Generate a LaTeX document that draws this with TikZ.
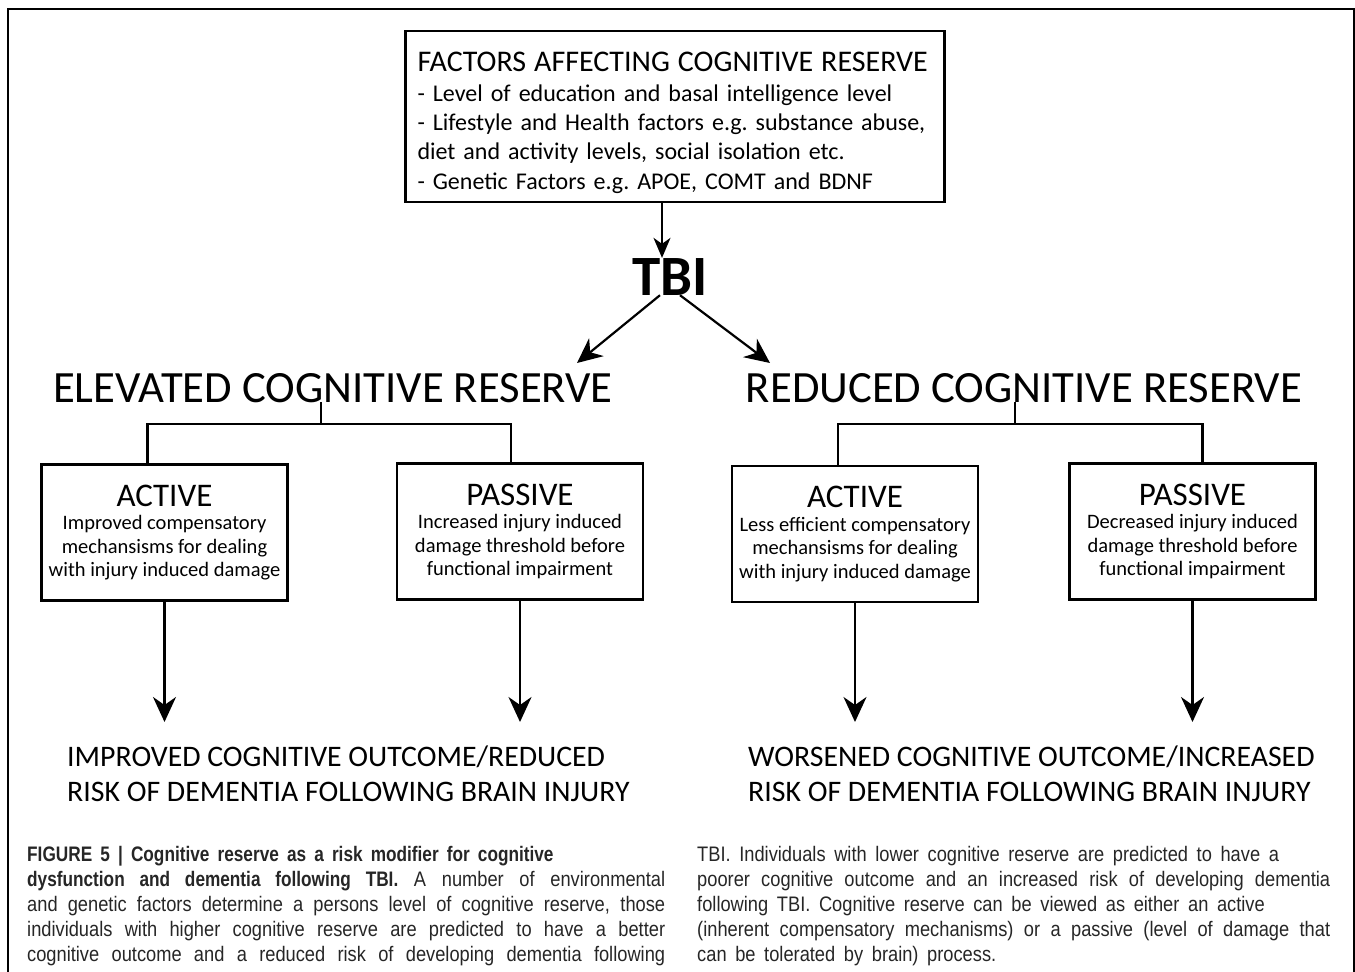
\documentclass[tikz,border=0pt]{standalone}
\usepackage{fontspec}
\setmainfont{Carlito}
\newfontfamily\capfont[FakeStretch=0.87,WordSpace={1.7,1.5,1.6},BoldFeatures={FakeStretch=0.82}]{Liberation Sans}
\usetikzlibrary{arrows.meta,positioning}

\tikzset{
  frame/.style={line width=1.4pt},
  factbox/.style={draw,line width=2.4pt,inner sep=0pt,minimum width=539pt,minimum height=171pt,
    text width=515pt,align=left,font=\fontsize{24}{29.3}\selectfont\frenchspacing},
  crbox/.style={draw,line width=2.4pt,inner sep=0pt,minimum width=246pt,minimum height=136pt,
    align=center,font=\fontsize{20.5}{23.5}\selectfont},
  head/.style={inner sep=0pt,anchor=base,font=\fontsize{44.7}{44.7}\selectfont},
  outcome/.style={inner sep=0pt,align=left,anchor=north west,font=\fontsize{29.8}{35}\selectfont},
  capt/.style={inner sep=0pt,anchor=north west,align=justify,text=black!85,
    font=\capfont\fontsize{21}{25}\selectfont},
  link/.style={line width=2.2pt},
  arr/.style={link,-{Stealth[length=25pt,width=23pt,inset=8pt]}},
  smallarr/.style={link,-{Stealth[length=20pt,width=17pt,inset=6pt]}},
}

\begin{document}
\begin{tikzpicture}[x=1pt,y=-1pt]
\useasboundingbox (0,0) rectangle (1355,972);
\draw[frame] (8,972) |- (1354,9) -- (1354,972);

\node[factbox] (factors) at (675,116.5) {\rule{0pt}{32pt}{\fontsize{30}{33}\selectfont FACTORS AFFECTING COGNITIVE RESERVE}\\
- Level of education and basal intelligence level\\
- Lifestyle and Health factors e.g. substance abuse,\\
diet and activity levels, social isolation etc.\\
- Genetic Factors e.g. APOE, COMT and BDNF};

\node[inner sep=0pt,anchor=base,font=\fontsize{57}{57}\selectfont\bfseries] (tbi) at (670,295) {TBI};

\node[head] (elev) at (333,402) {ELEVATED COGNITIVE RESERVE};
\node[head] (red) at (1024,402) {REDUCED COGNITIVE RESERVE};

\node[crbox] (lact) at (164.5,532.5) {{\fontsize{33}{30}\selectfont ACTIVE}\\Improved compensatory\\mechansisms for dealing\\with injury induced damage};
\node[crbox] (lpas) at (520,531.5) {{\fontsize{33}{30}\selectfont PASSIVE}\\Increased injury induced\\damage threshold before\\functional impairment};
\node[crbox] (ract) at (855,534) {{\fontsize{33}{30}\selectfont ACTIVE}\\Less efficient compensatory\\mechansisms for dealing\\with injury induced damage};
\node[crbox] (rpas) at (1192.5,531.5) {{\fontsize{33}{30}\selectfont PASSIVE}\\Decreased injury induced\\damage threshold before\\functional impairment};

\node[outcome] (lout) at (67,746) {IMPROVED COGNITIVE OUTCOME/REDUCED\\RISK OF DEMENTIA FOLLOWING BRAIN INJURY};
\node[outcome] (rout) at (748,746) {WORSENED COGNITIVE OUTCOME/INCREASED\\RISK OF DEMENTIA FOLLOWING BRAIN INJURY};

\coordinate (lj) at (321,424);
\coordinate (rj) at (1015,424);
\coordinate (etip) at (577,363);
\coordinate (rtip) at (770,363);
\coordinate (la) at (164.5,722);
\coordinate (lp) at (520,722);
\coordinate (ra) at (855,722);
\coordinate (rp) at (1192.5,722);

\draw[smallarr] ([xshift=-8pt]tbi.north |- factors.south) -- ([xshift=-8pt]tbi.north);
\draw[arr] ([xshift=-10pt]tbi.south) -- (etip);
\draw[arr] ([xshift=10pt]tbi.south) -- (rtip);

\draw[link] (lj) -- (lj |- elev.base);
\draw[link] ([xshift=-17pt]lact.north) |- (lj) -| ([xshift=-9pt]lpas.north);
\draw[link] (rj) -- (rj |- red.base);
\draw[link] ([xshift=-17pt]ract.north) |- (rj) -| ([xshift=10pt]rpas.north);

\draw[arr] (lact) -- (la);
\draw[arr] (lpas) -- (lp);
\draw[arr] (ract) -- (ra);
\draw[arr] (rpas) -- (rp);

\node[capt,text width=638pt] (lcap) at (27,846) {\textbf{FIGURE 5 | Cognitive reserve as a risk modifier for cognitive}\newline
\textbf{dysfunction and dementia following TBI.} A number of environmental\linebreak
and genetic factors determine a persons level of cognitive reserve, those\linebreak
individuals with higher cognitive reserve are predicted to have a better\linebreak
cognitive outcome and a reduced risk of developing dementia following\parfillskip=0pt\par};
\node[capt,text width=633pt] (rcap) at (697,846) {TBI. Individuals with lower cognitive reserve are predicted to have a\newline
poorer cognitive outcome and an increased risk of developing dementia\linebreak
following TBI. Cognitive reserve can be viewed as either an active\newline
(inherent compensatory mechanisms) or a passive (level of damage that\linebreak
can be tolerated by brain) process.};
\end{tikzpicture}
\end{document}
